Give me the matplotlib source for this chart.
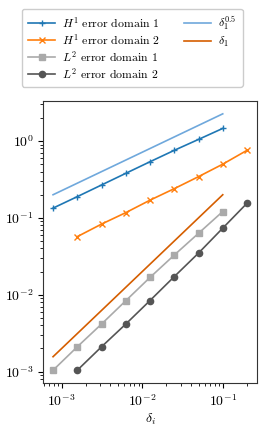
import matplotlib
matplotlib.use("Agg")
import matplotlib.pyplot as plt
from matplotlib.lines import Line2D

plt.rcParams['font.family'] = 'serif'
plt.rcParams['font.serif'] = ['cmr10']
plt.rcParams['mathtext.fontset'] = 'cm'
plt.rcParams['axes.formatter.use_mathtext'] = True

# data
delta_d1 = [0.00078125, 0.0015625, 0.003125, 0.00625, 0.0125, 0.025, 0.05, 0.1]
delta_d2 = [0.0015625, 0.003125, 0.00625, 0.0125, 0.025, 0.05, 0.1, 0.2]
h1_d1 = [0.134, 0.189, 0.268, 0.38, 0.538, 0.757, 1.05, 1.46]
h1_d2 = [0.057, 0.083, 0.117, 0.17, 0.24, 0.344, 0.50, 0.757]
l2_d1 = [0.00104, 0.0021, 0.00415, 0.00835, 0.0168, 0.0328, 0.063, 0.121]
l2_d2 = [0.00104, 0.0021, 0.00415, 0.0084, 0.0172, 0.0348, 0.0735, 0.155]
ref_x = [0.00078125, 0.1]
ref_half = [0.2, 2.26]
ref_one = [0.00156, 0.2]

fig = plt.figure(figsize=(2.66, 4.28), dpi=100)
ax = fig.add_axes([0.163, 0.105, 0.802, 0.659])

ax.loglog(delta_d1, h1_d1, marker='+', color='#1f77b4', lw=1.2, ms=5, label=r'$H^1$ error domain 1')
ax.loglog(delta_d2, h1_d2, marker='x', color='#ff7f0e', lw=1.2, ms=4.5, label=r'$H^1$ error domain 2')
ax.loglog(delta_d1, l2_d1, marker='s', color='#aaaaaa', lw=1.2, ms=4.5, label=r'$L^2$ error domain 1')
ax.loglog(delta_d2, l2_d2, marker='o', color='#555555', lw=1.2, ms=4.5, label=r'$L^2$ error domain 2')
ax.loglog(ref_x, ref_half, color='#6fa8dc', lw=1.2, label=r'$\delta_1^{0.5}$')
ax.loglog(ref_x, ref_one, color='#d55e00', lw=1.2, label=r'$\delta_1$')

ax.set_xlabel(r'$\delta_i$', fontsize=10, labelpad=2)
ax.tick_params(labelsize=10)
for s in ax.spines.values():
    s.set_color('#333333')

handles, labels = ax.get_legend_handles_labels()
blank = Line2D([], [], color='none')
handles = handles + [blank, blank]
labels = labels + ['', '']
fig.legend(handles, labels, loc='upper left', bbox_to_anchor=(0.083, 0.98), ncol=2, fontsize=8.5,
           handlelength=2.3, handletextpad=0.6, columnspacing=2.0, labelspacing=0.18,
           borderpad=0.5, borderaxespad=0, framealpha=1.0, edgecolor='#cccccc')

fig.savefig('out.png', dpi=100)
